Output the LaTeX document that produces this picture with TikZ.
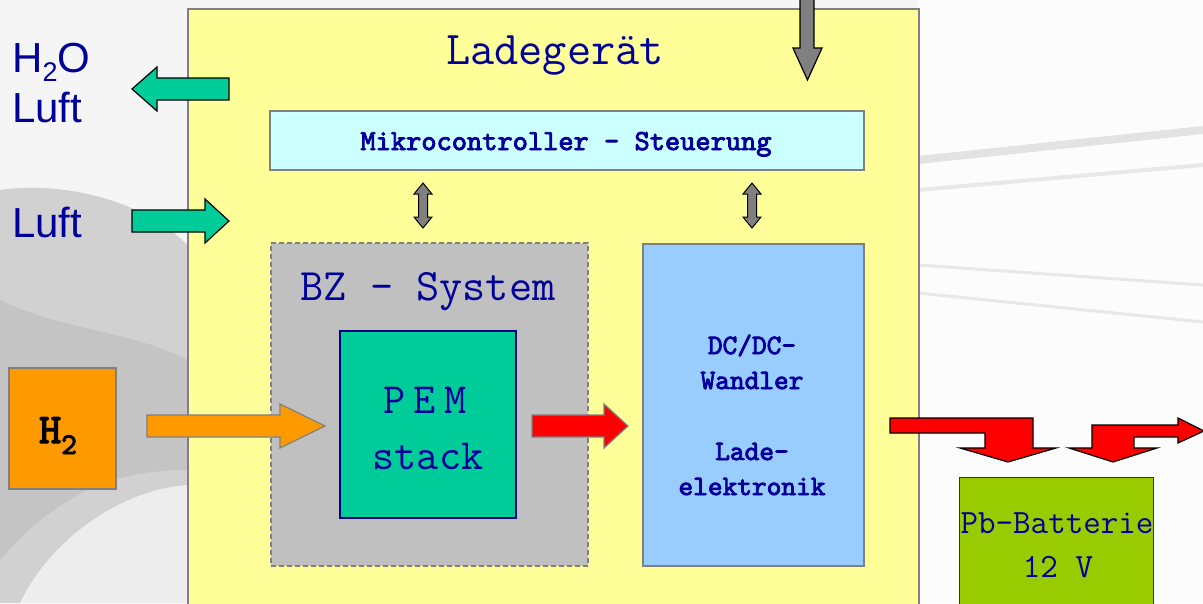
\documentclass[tikz,border=0pt]{standalone}
\usepackage{fontspec}
\newfontfamily\arialfont{Liberation Sans}
\newfontfamily\heavymono{lmmono10-regular}[Extension=.otf, FakeBold=3]
\definecolor{chargerfill}{HTML}{FFFF99}
\definecolor{mcufill}{HTML}{CCFFFF}
\definecolor{bzfill}{HTML}{C0C0C0}
\definecolor{pemfill}{HTML}{00CC99}
\definecolor{dcfill}{HTML}{99CCFF}
\definecolor{hydrofill}{HTML}{FF9900}
\definecolor{battfill}{HTML}{99CC00}
\definecolor{labelblue}{HTML}{000099}
\definecolor{framegray}{HTML}{808080}
\definecolor{pemedge}{HTML}{000080}
\begin{document}
\begin{tikzpicture}[x=1pt,y=-1pt,
  block/.style={rectangle, inner sep=0pt, anchor=north west, draw=framegray, line width=1.5pt},
  blockarrow/.style={draw=black, line width=1.2pt, line join=miter},
  softarrow/.style={draw=framegray, line width=1.2pt, line join=miter},
  mono/.style={text=labelblue, inner sep=0pt, font=\ttfamily\fontsize{#1}{#1}\selectfont},
  monob/.style={text=labelblue, inner sep=0pt, font=\heavymono\fontsize{#1}{#1}\selectfont},
  sans/.style={text=labelblue, inner sep=0pt, font=\arialfont\fontsize{#1}{#1}\selectfont}]
\useasboundingbox (0,0) rectangle (1203,603);
\clip (0,0) rectangle (1203,603);

% backdrop: pale photo behind the diagram
\fill[white!96!black] (0,0) rectangle (1203,603);
\fill[white!82!black] (0,190) .. controls (70,180) and (150,205) .. (187,245) -- (187,603) -- (0,603) -- cycle;
\fill[white!77!black] (0,300) .. controls (60,330) and (130,330) .. (187,360) -- (187,470) .. controls (120,470) and (60,490) .. (0,560) -- cycle;
\fill[white!93!black] (20,603) .. controls (50,540) and (120,490) .. (187,485) -- (187,603) -- cycle;
\fill[white!99!black] (918,0) rectangle (1203,603);
\draw[white!89!black, line width=8pt] (918,160) -- (1203,130);
\draw[white!91!black, line width=4pt] (918,190) -- (1203,165);
\draw[white!91!black, line width=3pt] (918,265) -- (1203,285);
\draw[white!91!black, line width=3pt] (918,293) -- (1203,322);

% charger enclosure
\node[block, fill=chargerfill, minimum width=731pt, minimum height=620pt] (charger) at (187,8) {};
\node[mono=47, anchor=base] (chargerlabel) at (555,64) {Ladegerät};

% power input from above
\filldraw[blockarrow, fill=framegray] (800,-4) -- (814,-4) -- (814,48) -- (822,48) -- (807.5,80) -- (793,48) -- (800,48) -- cycle;

% microcontroller
\node[block, fill=mcufill, minimum width=594pt, minimum height=59pt] (mcu) at (269,110) {};
\node[monob=29, anchor=base] (mculabel) at (566,150) {Mikrocontroller - Steuerung};

% control links
\foreach \cx in {423,752}
  \filldraw[blockarrow, line width=1pt, fill=framegray]
    (\cx,183) -- (\cx+9,194) -- (\cx+4.5,194) -- (\cx+4.5,217) -- (\cx+9,217) -- (\cx,228)
    -- (\cx-9,217) -- (\cx-4.5,217) -- (\cx-4.5,194) -- (\cx-9,194) -- cycle;

% fuel cell system
\node[block, fill=bzfill, dashed, dash pattern=on 5pt off 3pt, minimum width=317pt, minimum height=323pt] (bz) at (270,242) {};
\node[mono=45, anchor=base] (bzlabel) at (428,300) {BZ - System};
\node[block, draw=pemedge, fill=pemfill, minimum width=176pt, minimum height=187pt] (pem) at (339,330) {};
\node[mono=43, anchor=base] (pemlabel) at (425,413) {P\hspace{0.2em}E\hspace{0.2em}M};
\node[mono=43, anchor=base] (stacklabel) at (428,469) {stack};

% DC/DC converter
\node[block, fill=dcfill, minimum width=221pt, minimum height=322pt] (dc) at (642,243) {};
\node[monob=28, anchor=base] (dc1) at (752,354) {DC/DC-};
\node[monob=28, anchor=base] (dc2) at (752,389) {Wandler};
\node[monob=28, anchor=base] (dc3) at (752,460) {Lade-};
\node[monob=28, anchor=base] (dc4) at (752,495) {elektronik};

% exhaust and air supply
\node[sans=42, anchor=base west] (h2olabel) at (12,72) {H\raisebox{-9pt}{\fontsize{27}{27}\selectfont 2}O};
\node[sans=42, anchor=base west] (luft1) at (12,122) {Luft};
\node[sans=42, anchor=base west] (luft2) at (12,237) {Luft};
\filldraw[blockarrow, fill=pemfill] (229,78) -- (157,78) -- (157,67) -- (132,89) -- (157,111) -- (157,100) -- (229,100) -- cycle;
\filldraw[blockarrow, fill=pemfill] (132,210) -- (205,210) -- (205,199) -- (229,221) -- (205,243) -- (205,232) -- (132,232) -- cycle;

% hydrogen supply
\node[block, fill=hydrofill, minimum width=107pt, minimum height=121pt] (h2) at (8,367) {};
\node[monob=42, text=black, anchor=base] (h2label) at (58,443) {H\raisebox{-11pt}{\fontsize{30}{30}\selectfont 2}};
\filldraw[softarrow, fill=hydrofill] (147,415) -- (280,415) -- (280,404) -- (325,426) -- (280,448) -- (280,437) -- (147,437) -- cycle;

% stack output to converter
\filldraw[softarrow, fill=red] (532,415) -- (604,415) -- (604,404) -- (628,426) -- (604,448) -- (604,437) -- (532,437) -- cycle;

% charging current to battery and load
\filldraw[blockarrow, fill=red] (890,418) -- (1033,418) -- (1033,448) -- (1056,448) -- (1008,462) -- (960,448)
  -- (985,448) -- (985,433) -- (890,433) -- cycle;
\filldraw[blockarrow, fill=red] (1092,425) -- (1178,425) -- (1178,418) -- (1204,431) -- (1178,443) -- (1178,437)
  -- (1134,437) -- (1134,448) -- (1157,448) -- (1113,462) -- (1069,448) -- (1092,448) -- cycle;

% lead battery
\node[block, draw=black!80, line width=1.2pt, fill=battfill, minimum width=194pt, minimum height=140pt] (batt) at (959,477) {};
\node[mono=34, anchor=base] (battlabel) at (1057,533) {Pb-Batterie};
\node[mono=34, anchor=base] (voltlabel) at (1058,577) {12 V};
\end{tikzpicture}
\end{document}
